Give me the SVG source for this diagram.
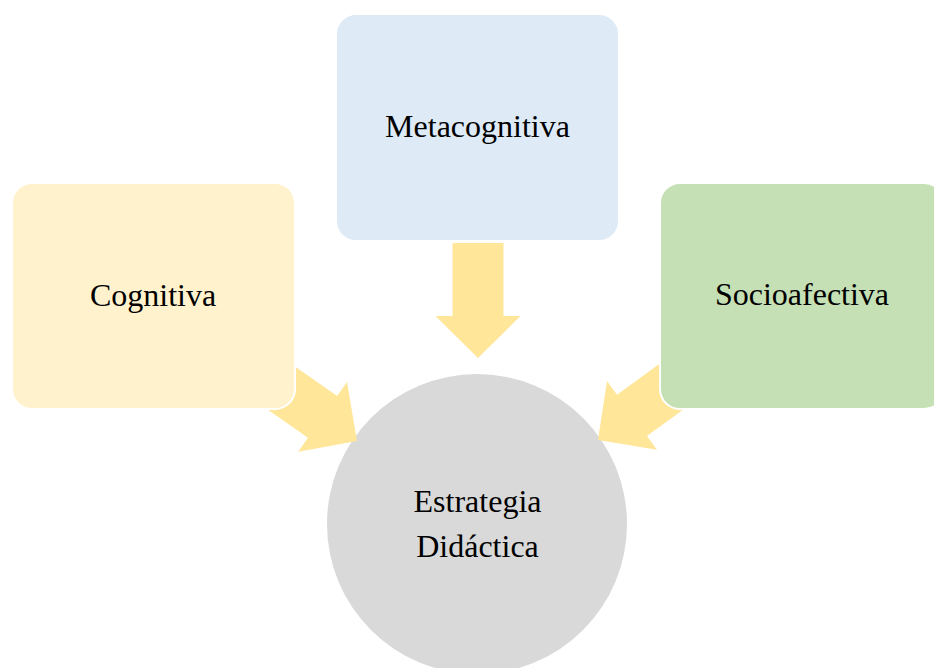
<svg xmlns="http://www.w3.org/2000/svg" width="934" height="668" viewBox="0 0 934 668">
<defs>
<style>
.box{stroke:#ffffff;stroke-width:2}
.lbl{font-family:"Liberation Serif","Times New Roman",serif;font-size:32px;fill:#000;text-anchor:middle}
.arr{fill:#ffe699}
</style>
<polygon id="arrowShape" points="-115,-25.5 -42,-25.5 -42,-42.5 0,0 -42,42.5 -42,25.5 -115,25.5"/>
</defs>
<rect width="934" height="668" fill="#ffffff"/>
<g id="center">
<circle cx="477" cy="524" r="150" fill="#d9d9d9"/>
<text class="lbl" x="477.5" y="512">Estrategia</text>
<text class="lbl" x="477.5" y="557">Didáctica</text>
</g>
<g id="connectors">
<use href="#arrowShape" class="arr" transform="translate(478,358) rotate(90)"/>
<use href="#arrowShape" class="arr" transform="translate(357,441) rotate(35)"/>
<use href="#arrowShape" class="arr" transform="translate(598,440) rotate(144)"/>
</g>
<g id="cognitiva">
<rect class="box" x="12" y="183" width="283" height="226" rx="20" fill="#fff2cc"/>
<text class="lbl" x="153" y="306">Cognitiva</text>
</g>
<g id="metacognitiva">
<rect class="box" x="336" y="14" width="283" height="227" rx="20" fill="#deeaf6"/>
<text class="lbl" x="477.5" y="137">Metacognitiva</text>
</g>
<g id="socioafectiva">
<rect class="box" x="660" y="183" width="284" height="226" rx="20" fill="#c5e0b4"/>
<text class="lbl" x="802" y="305">Socioafectiva</text>
</g>
</svg>
